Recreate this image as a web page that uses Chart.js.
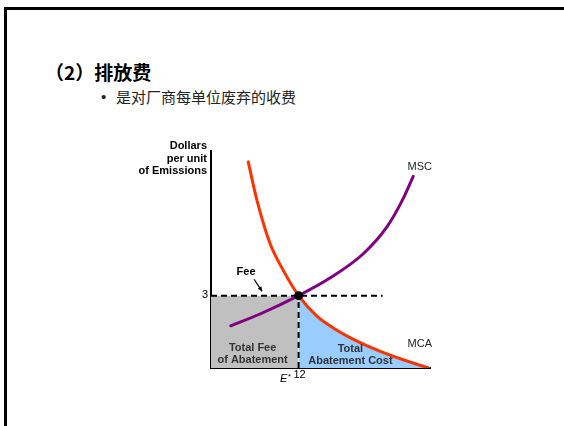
<!DOCTYPE html>
<html>
<head>
<meta charset="utf-8">
<script src="https://cdn.jsdelivr.net/npm/chart.js@4/dist/chart.umd.min.js"></script>
<style>
  html, body { margin: 0; padding: 0; background: #fff; }
  #page { position: relative; width: 564px; height: 426px; overflow: hidden; }
  #frame { position: absolute; left: 4px; top: 7px; right: -10px; bottom: -10px;
           border-left: 3px solid #000; border-top: 3px solid #000; }
  #title { position: absolute; left: 45px; top: 58px; font: bold 19px "Noto Sans CJK SC", sans-serif; color: #000; }
  #dot { position: absolute; left: 101px; top: 88px; font: 15px "Liberation Sans", Arial, sans-serif; color: #222; }
  #bullet { position: absolute; left: 116px; top: 86px; font: 15px "Noto Sans CJK SC", sans-serif; color: #222; }
  #chart { position: absolute; left: 0; top: 0; }
</style>
</head>
<body>
<div id="page">
  <div id="frame"></div>
  <div id="title">（2）排放费</div>
  <div id="dot">•</div>
  <div id="bullet">是对厂商每单位废弃的收费</div>
  <canvas id="chart" width="564" height="426"></canvas>
</div>
<script>
// marginal cost of abatement
const mcaX = [5.1, 6.3, 8.1, 9.9, 12, 14.5, 16.8, 19.1, 21.4, 25, 29.8];
const mcaY = [8.55, 6.95, 5.15, 4.05, 3, 2.15, 1.65, 1.25, 0.92, 0.48, 0];
// marginal social cost
const mscX = [2.7, 6.8, 12, 16.4, 20.9, 24.1, 26.2, 27.7];
const mscY = [1.75, 2.25, 3, 3.75, 4.75, 5.85, 6.95, 7.95];

const fee = 3;
const eStar = 12;
const feeLineEnd = 23.5;
const tickLabelsY = ["3"];
const tickLabelsX = ["12"];

const pts = (xs, ys) => xs.map((x, i) => ({x: x, y: ys[i]}));
const mcaPts = pts(mcaX, mcaY);
const mscPts = pts(mscX, mscY);
const costPts = mcaPts.filter(p => p.x >= eStar);

const labels = {
  id: 'labels',
  afterDraw(chart) {
    const c = chart.ctx, sx = chart.scales.x, sy = chart.scales.y;
    const X = v => sx.getPixelForValue(v), Y = v => sy.getPixelForValue(v);
    c.save();
    c.fillStyle = '#000';
    c.textBaseline = 'middle';

    // axis title
    c.font = 'bold 11px "Liberation Sans", Arial, sans-serif';
    c.textAlign = 'right';
    ['Dollars', 'per unit', 'of Emissions'].forEach((t, i) => c.fillText(t, X(0) - 4, 146 + i * 12.5));

    // tick labels
    c.font = '11px "Liberation Sans", Arial, sans-serif';
    c.fillText(tickLabelsY[0], X(0) - 3, Y(fee) - 1);
    c.textAlign = 'center';
    c.fillText(tickLabelsX[0], X(eStar) + 1, Y(0) + 7);
    c.font = 'italic 11px "Liberation Sans", Arial, sans-serif';
    c.fillText('E', X(eStar) - 15, Y(0) + 11);
    c.font = '8px "Liberation Sans", Arial, sans-serif';
    c.fillText('*', X(eStar) - 9, Y(0) + 9);

    // curve names
    c.font = '11px "Liberation Sans", Arial, sans-serif';
    c.fillStyle = '#222';
    c.fillText('MSC', X(28.6), Y(8.35));
    c.fillText('MCA', X(28.6), Y(1.0));

    // area labels
    c.fillStyle = '#333';
    c.font = 'bold 11px "Liberation Sans", Arial, sans-serif';
    c.fillText('Total Fee', X(5.7), Y(0.83));
    c.fillText('of Abatement', X(5.7), Y(0.33));
    c.fillText('Total', X(19.1), Y(0.79));
    c.fillText('Abatement Cost', X(19.1), Y(0.29));

    // fee label and arrow
    c.fillStyle = '#000';
    c.fillText('Fee', X(4.8), Y(3.98));
    const x1 = X(5.9), y1 = Y(3.68), x2 = X(7.0), y2 = Y(3.18);
    c.strokeStyle = '#000';
    c.lineWidth = 1.2;
    c.beginPath(); c.moveTo(x1, y1); c.lineTo(x2, y2); c.stroke();
    const a = Math.atan2(y2 - y1, x2 - x1);
    c.beginPath();
    c.moveTo(x2, y2);
    c.lineTo(x2 - 5 * Math.cos(a - 0.45), y2 - 5 * Math.sin(a - 0.45));
    c.lineTo(x2 - 5 * Math.cos(a + 0.45), y2 - 5 * Math.sin(a + 0.45));
    c.closePath(); c.fill();
    c.restore();
  }
};

new Chart(document.getElementById('chart'), {
  type: 'scatter',
  data: {
    datasets: [
      { data: [{x: eStar, y: fee}], pointRadius: 4.5, pointBackgroundColor: '#000', pointBorderWidth: 0, showLine: false },
      { data: mcaPts, showLine: true, borderColor: '#ff3300', borderWidth: 3, pointRadius: 0,
        cubicInterpolationMode: 'monotone', borderCapStyle: 'round' },
      { data: mscPts, showLine: true, borderColor: '#800080', borderWidth: 3, pointRadius: 0,
        cubicInterpolationMode: 'monotone', borderCapStyle: 'round' },
      { data: [{x: 0, y: fee}, {x: feeLineEnd, y: fee}], showLine: true, borderColor: '#000',
        borderWidth: 2, borderDash: [6, 4], pointRadius: 0 },
      { data: [{x: eStar, y: 0}, {x: eStar, y: fee}], showLine: true, borderColor: '#000',
        borderWidth: 2, borderDash: [6, 4], pointRadius: 0 },
      { data: costPts, showLine: true, borderWidth: 0, pointRadius: 0, fill: 'origin',
        backgroundColor: '#99ccff', cubicInterpolationMode: 'monotone' },
      { data: [{x: 0, y: fee}, {x: eStar, y: fee}], showLine: true, borderWidth: 0, pointRadius: 0,
        fill: 'origin', backgroundColor: '#c0c0c0' }
    ]
  },
  options: {
    responsive: false,
    animation: false,
    layout: { padding: { left: 203, top: 151, right: 134, bottom: 50 } },
    plugins: { legend: { display: false }, tooltip: { enabled: false } },
    scales: {
      x: { type: 'linear', min: 0, max: 30, ticks: { display: false }, grid: { display: false },
           border: { display: true, color: '#000', width: 2 } },
      y: { type: 'linear', min: 0, max: 9, ticks: { display: false }, grid: { display: false },
           border: { display: true, color: '#000', width: 2 } }
    }
  },
  plugins: [labels]
});
</script>
</body>
</html>
